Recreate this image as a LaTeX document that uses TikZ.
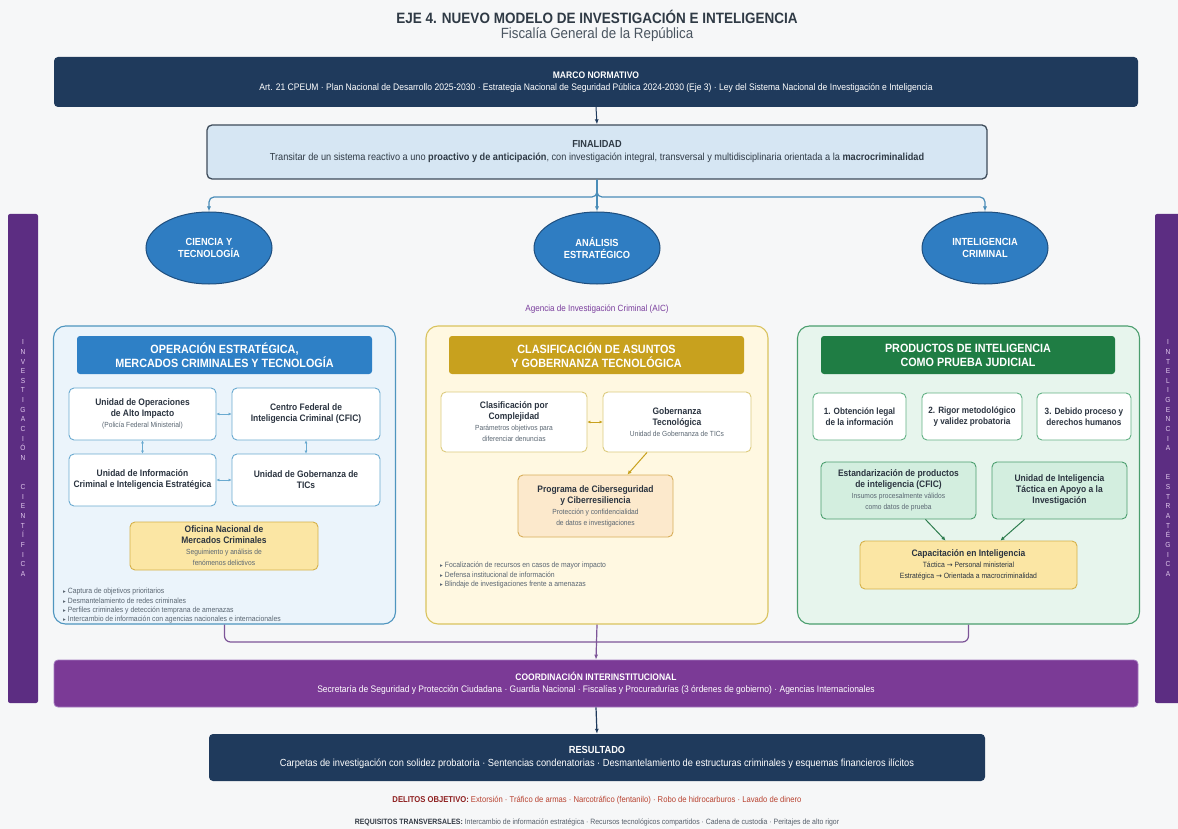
\documentclass[tikz,border=0pt]{standalone}
\usepackage{fontspec}
\setmainfont{Liberation Sans}[FakeStretch=0.9]
\newfontfamily\djv{DejaVu Sans}
\usetikzlibrary{arrows.meta,shapes.geometric,calc}
\definecolor{bg}{HTML}{F6F7F8}
\definecolor{navy}{HTML}{1F3A5C}
\definecolor{titlec}{HTML}{2F3A45}
\definecolor{subc}{HTML}{4A5560}
\definecolor{finfill}{HTML}{D6E6F3}
\definecolor{finborder}{HTML}{3E4C5A}
\definecolor{conn}{HTML}{4A8DB8}
\definecolor{ellfill}{HTML}{2F7DC2}
\definecolor{elldraw}{HTML}{1E4E7E}
\definecolor{aic}{HTML}{7A3E9D}
\definecolor{lpfill}{HTML}{EBF4FB}
\definecolor{lpdraw}{HTML}{4E95BF}
\definecolor{lhfill}{HTML}{2E80C6}
\definecolor{lbd}{HTML}{6AAAD0}
\definecolor{yfill}{HTML}{FBE6A4}
\definecolor{ydraw}{HTML}{D5B14A}
\definecolor{mpfill}{HTML}{FFF8E1}
\definecolor{mpdraw}{HTML}{D9C35E}
\definecolor{mhfill}{HTML}{C8A11E}
\definecolor{mbd}{HTML}{DCCB7E}
\definecolor{gfill}{HTML}{FCE9CC}
\definecolor{gdraw}{HTML}{D8AE5A}
\definecolor{rpfill}{HTML}{E7F5ED}
\definecolor{rpdraw}{HTML}{4B9E6E}
\definecolor{rhfill}{HTML}{1F7D44}
\definecolor{rbd}{HTML}{62B184}
\definecolor{hfill}{HTML}{D3EEDF}
\definecolor{garrow}{HTML}{2E7D4F}
\definecolor{side}{HTML}{5C2D82}
\definecolor{sidetext}{HTML}{E3CBEF}
\definecolor{coordfill}{HTML}{7B3A96}
\definecolor{coorddraw}{HTML}{A57BC0}
\definecolor{purpconn}{HTML}{7D5598}
\definecolor{textdark}{HTML}{2B3440}
\definecolor{textsub}{HTML}{5A6672}
\definecolor{delc}{HTML}{8E1F1F}
\definecolor{delt}{HTML}{B8412F}
\definecolor{reqc}{HTML}{333B45}
\definecolor{reqt}{HTML}{555F6A}
\newcommand\fs[2]{\fontsize{#1}{#2}\selectfont}
\newcommand\bul{{\djv\fontsize{5.5}{6}\selectfont ▸}}
\newcommand\rarr{{\djv\fontsize{7}{8}\selectfont →}}
\begin{document}
\begin{tikzpicture}[x=1pt,y=-1pt,
  rbox/.style={draw, rounded corners=5pt, align=center, inner sep=1pt, line width=0.9pt, text=textdark},
  wbox/.style={rbox, fill=white, font=\fs{9.4}{11}},
  hdr/.style={rounded corners=3pt, align=center, inner sep=1pt, text=white, font=\fs{12}{14}\bfseries, minimum height=38},
  panel/.style={draw, rounded corners=12pt, line width=1.1pt, minimum width=342, minimum height=298},
  ell/.style={ellipse, draw=elldraw, fill=ellfill, line width=1pt, minimum width=126, minimum height=72, inner sep=0pt, align=center, text=white, font=\fs{10.3}{12.5}\bfseries},
  band/.style={rounded corners=4pt, align=center, inner sep=1pt, text=white},
  bidir/.style={{Latex[length=3pt,width=3pt]}-{Latex[length=3pt,width=3pt]}, line width=1pt},
  sidebar/.style={rounded corners=2pt, fill=side},
  sidetxt/.style={align=center, text=sidetext, font=\fs{7.3}{9.65}, inner sep=0pt},
  bullets/.style={align=left, anchor=north west, inner sep=0pt, text=textsub, font=\fs{7.6}{9.4}}
]
\useasboundingbox (0,0) rectangle (1178,829);
\fill[bg] (0,0) rectangle (1178,829);

% side bars
\fill[sidebar] (8,214) rectangle (38,703);
\fill[sidebar] (1155,214) rectangle (1190,703);
\node[sidetxt] (sl) at (23,458) {I\\N\\V\\E\\S\\T\\I\\G\\A\\C\\I\\Ó\\N\\~\\~\\C\\I\\E\\N\\T\\Í\\F\\I\\C\\A};
\node[sidetxt] (sr) at (1168,458) {I\\N\\T\\E\\L\\I\\G\\E\\N\\C\\I\\A\\~\\~\\E\\S\\T\\R\\A\\T\\É\\G\\I\\C\\A};

% title
\node[text=titlec, font=\fs{15}{17}\bfseries, inner sep=0] (title) at (597,17) {EJE 4. NUEVO MODELO DE INVESTIGACIÓN E INTELIGENCIA};
\node[text=subc, font=\fs{14.8}{17}, inner sep=0] (subtitle) at (597,35) {Fiscalía General de la República};

% marco
\node[band, fill=navy, minimum width=1084, minimum height=50, font=\fs{9.5}{12}] (marco) at (596,82)
 {\textbf{MARCO NORMATIVO}\\Art. 21 CPEUM · Plan Nacional de Desarrollo 2025-2030 · Estrategia Nacional de Seguridad Pública 2024-2030 (Eje 3) · Ley del Sistema Nacional de Investigación e Inteligencia};

% finalidad
\node[rbox, draw=finborder, fill=finfill, line width=1.3pt, minimum width=780, minimum height=54, font=\fs{10.2}{13}, text=titlec] (fin) at (597,152)
 {\textbf{FINALIDAD}\\Transitar de un sistema reactivo a uno \textbf{proactivo y de anticipación}, con investigación integral, transversal y multidisciplinaria orientada a la \textbf{macrocriminalidad}};
\draw[navy, line width=1pt, -{Latex[length=5pt,width=4pt]}] (marco.south) -- (fin.north);

% ellipses
\node[ell] (e1) at (209,248) {CIENCIA Y\\TECNOLOGÍA};
\node[ell] (e2) at (597,248) {ANÁLISIS\\ESTRATÉGICO};
\node[ell] (e3) at (985,248) {INTELIGENCIA\\CRIMINAL};
\coordinate (fj) at (597,197);
\draw[conn, line width=1.2pt, rounded corners=5pt, -{Latex[length=5pt,width=4pt]}] (fin.south) -- (fj) -| (e1.north);
\draw[conn, line width=1.2pt, rounded corners=5pt, -{Latex[length=5pt,width=4pt]}] (fin.south) -- (fj) -| (e3.north);
\draw[conn, line width=1.2pt, -{Latex[length=5pt,width=4pt]}] (fin.south) -- (e2.north);

\node[text=aic, font=\fs{9}{11}] (aic) at (597,309) {Agencia de Investigación Criminal (AIC)};

% ---------------- left panel
\node[panel, draw=lpdraw, fill=lpfill] (lp) at (224.5,475) {};
\node[hdr, fill=lhfill, minimum width=295] (lh) at (224.5,355) {OPERACIÓN ESTRATÉGICA,\\MERCADOS CRIMINALES Y TECNOLOGÍA};
\node[wbox, draw=lbd, minimum width=147, minimum height=52] (A) at (142.5,414) {\textbf{Unidad de Operaciones}\\\textbf{de Alto Impacto}\\{\fs{7.4}{9}\color{textsub}(Policía Federal Ministerial)}};
\node[wbox, draw=lbd, minimum width=148, minimum height=52] (B) at (306,414) {\textbf{Centro Federal de}\\\textbf{Inteligencia Criminal (CFIC)}};
\node[wbox, draw=lbd, minimum width=147, minimum height=52] (C) at (142.5,480) {\textbf{Unidad de Información}\\\textbf{Criminal e Inteligencia Estratégica}};
\node[wbox, draw=lbd, minimum width=148, minimum height=52] (D) at (306,480) {\textbf{Unidad de Gobernanza de}\\\textbf{TICs}};
\draw[bidir, lbd] (A.east) -- (B.west);
\draw[bidir, lbd] (C.east) -- (D.west);
\draw[bidir, lbd] (A.south) -- (C.north);
\draw[bidir, lbd] (B.south) -- (D.north);
\node[rbox, draw=ydraw, fill=yfill, minimum width=188, minimum height=48, font=\fs{9.4}{11}] (ofi) at (224,546) {\textbf{Oficina Nacional de}\\\textbf{Mercados Criminales}\\{\fs{7.4}{9}\color{textsub}Seguimiento y análisis de}\\{\fs{7.4}{9}\color{textsub}fenómenos delictivos}};
\node[bullets] (lb) at (63,588) {\bul\ Captura de objetivos prioritarios\\\bul\ Desmantelamiento de redes criminales\\\bul\ Perfiles criminales y detección temprana de amenazas\\\bul\ Intercambio de información con agencias nacionales e internacionales};

% ---------------- middle panel
\node[panel, draw=mpdraw, fill=mpfill] (mp) at (597,475) {};
\node[hdr, fill=mhfill, minimum width=295] (mh) at (596.5,355) {CLASIFICACIÓN DE ASUNTOS\\Y GOBERNANZA TECNOLÓGICA};
\node[wbox, draw=mbd, minimum width=146, minimum height=60] (E) at (514,422) {\textbf{Clasificación por}\\\textbf{Complejidad}\\{\fs{7.4}{9}\color{textsub}Parámetros objetivos para}\\{\fs{7.4}{9}\color{textsub}diferenciar denuncias}};
\node[wbox, draw=mbd, minimum width=148, minimum height=60] (F) at (677,422) {\textbf{Gobernanza}\\\textbf{Tecnológica}\\{\fs{7.4}{9}\color{textsub}Unidad de Gobernanza de TICs}};
\draw[bidir, mhfill] (E.east) -- (F.west);
\node[rbox, draw=gdraw, fill=gfill, minimum width=155, minimum height=62, font=\fs{9.4}{11}] (G) at (595.5,506) {\textbf{Programa de Ciberseguridad}\\\textbf{y Ciberresiliencia}\\{\fs{7.4}{9}\color{textsub}Protección y confidencialidad}\\{\fs{7.4}{9}\color{textsub}de datos e investigaciones}};
\draw[mhfill, line width=1pt, -{Latex[length=4pt,width=4pt]}] ($(F.south)+(-30,0)$) -- ($(G.north)+(32,0)$);
\node[bullets] (mb) at (440,562) {\bul\ Focalización de recursos en casos de mayor impacto\\\bul\ Defensa institucional de información\\\bul\ Blindaje de investigaciones frente a amenazas};

% ---------------- right panel
\node[panel, draw=rpdraw, fill=rpfill] (rp) at (968.5,475) {};
\node[hdr, fill=rhfill, minimum width=294] (rh) at (968,355) {PRODUCTOS DE INTELIGENCIA\\COMO PRUEBA JUDICIAL};
\node[wbox, draw=rbd, minimum width=93, minimum height=47, font=\fs{9.1}{11}] (R1) at (859.5,416.5) {\textbf{1. Obtención legal}\\\textbf{de la información}};
\node[wbox, draw=rbd, minimum width=100, minimum height=47, font=\fs{9.1}{11}] (R2) at (972,416.5) {\textbf{2. Rigor metodológico}\\\textbf{y validez probatoria}};
\node[wbox, draw=rbd, minimum width=94, minimum height=47, font=\fs{9.1}{11}] (R3) at (1084,416.5) {\textbf{3. Debido proceso y}\\\textbf{derechos humanos}};
\node[rbox, draw=rpdraw, fill=hfill, minimum width=155, minimum height=57, font=\fs{9.4}{11}] (H) at (898.5,490.5) {\textbf{Estandarización de productos}\\\textbf{de inteligencia (CFIC)}\\{\fs{7.4}{9}\color{textsub}Insumos procesalmente válidos}\\{\fs{7.4}{9}\color{textsub}como datos de prueba}};
\node[rbox, draw=rpdraw, fill=hfill, minimum width=135, minimum height=57, font=\fs{9.4}{11}] (I) at (1059.5,490.5) {\textbf{Unidad de Inteligencia}\\\textbf{Táctica en Apoyo a la}\\\textbf{Investigación}};
\node[rbox, draw=ydraw, fill=yfill, minimum width=217, minimum height=48, font=\fs{9.4}{11}] (cap) at (968.5,565) {\textbf{Capacitación en Inteligencia}\\{\fs{7.6}{9}Táctica \rarr\ Personal ministerial}\\{\fs{7.6}{9}Estratégica \rarr\ Orientada a macrocriminalidad}};
\draw[garrow, line width=1pt, -{Latex[length=4pt,width=4pt]}] ($(H.south)+(27,0)$) -- ($(cap.north)+(-23,0)$);
\draw[garrow, line width=1pt, -{Latex[length=4pt,width=4pt]}] ($(I.south)+(-35,0)$) -- ($(cap.north)+(32,0)$);

% ---------------- coordination
\node[band, fill=coordfill, draw=coorddraw, line width=0.8pt, minimum width=1084, minimum height=47, font=\fs{9.45}{12}] (coord) at (596,683.5)
 {\textbf{COORDINACIÓN INTERINSTITUCIONAL}\\Secretaría de Seguridad y Protección Ciudadana · Guardia Nacional · Fiscalías y Procuradurías (3 órdenes de gobierno) · Agencias Internacionales};
\coordinate (pj) at (597,642);
\draw[purpconn, line width=1.2pt, rounded corners=6pt] (lp.south) |- (pj) -| (rp.south);
\draw[purpconn, line width=1.2pt, -{Latex[length=5pt,width=4pt]}] (mp.south) -- (coord.north);

% ---------------- result
\node[band, fill=navy, minimum width=776, minimum height=47, font=\fs{10.3}{13.5}] (res) at (597,757.5)
 {\textbf{RESULTADO}\\Carpetas de investigación con solidez probatoria · Sentencias condenatorias · Desmantelamiento de estructuras criminales y esquemas financieros ilícitos};
\draw[navy, line width=1.2pt, -{Latex[length=5pt,width=4pt]}] (coord.south) -- (res.north);

\node[font=\fs{8.5}{10}, inner sep=0] (del) at (597,800) {\textcolor{delc}{\bfseries DELITOS OBJETIVO:} \textcolor{delt}{Extorsión · Tráfico de armas · Narcotráfico (fentanilo) · Robo de hidrocarburos · Lavado de dinero}};
\node[font=\fs{7.7}{9}, inner sep=0] (req) at (597,822) {\textcolor{reqc}{\bfseries REQUISITOS TRANSVERSALES:} \textcolor{reqt}{Intercambio de información estratégica · Recursos tecnológicos compartidos · Cadena de custodia · Peritajes de alto rigor}};
\end{tikzpicture}
\end{document}
